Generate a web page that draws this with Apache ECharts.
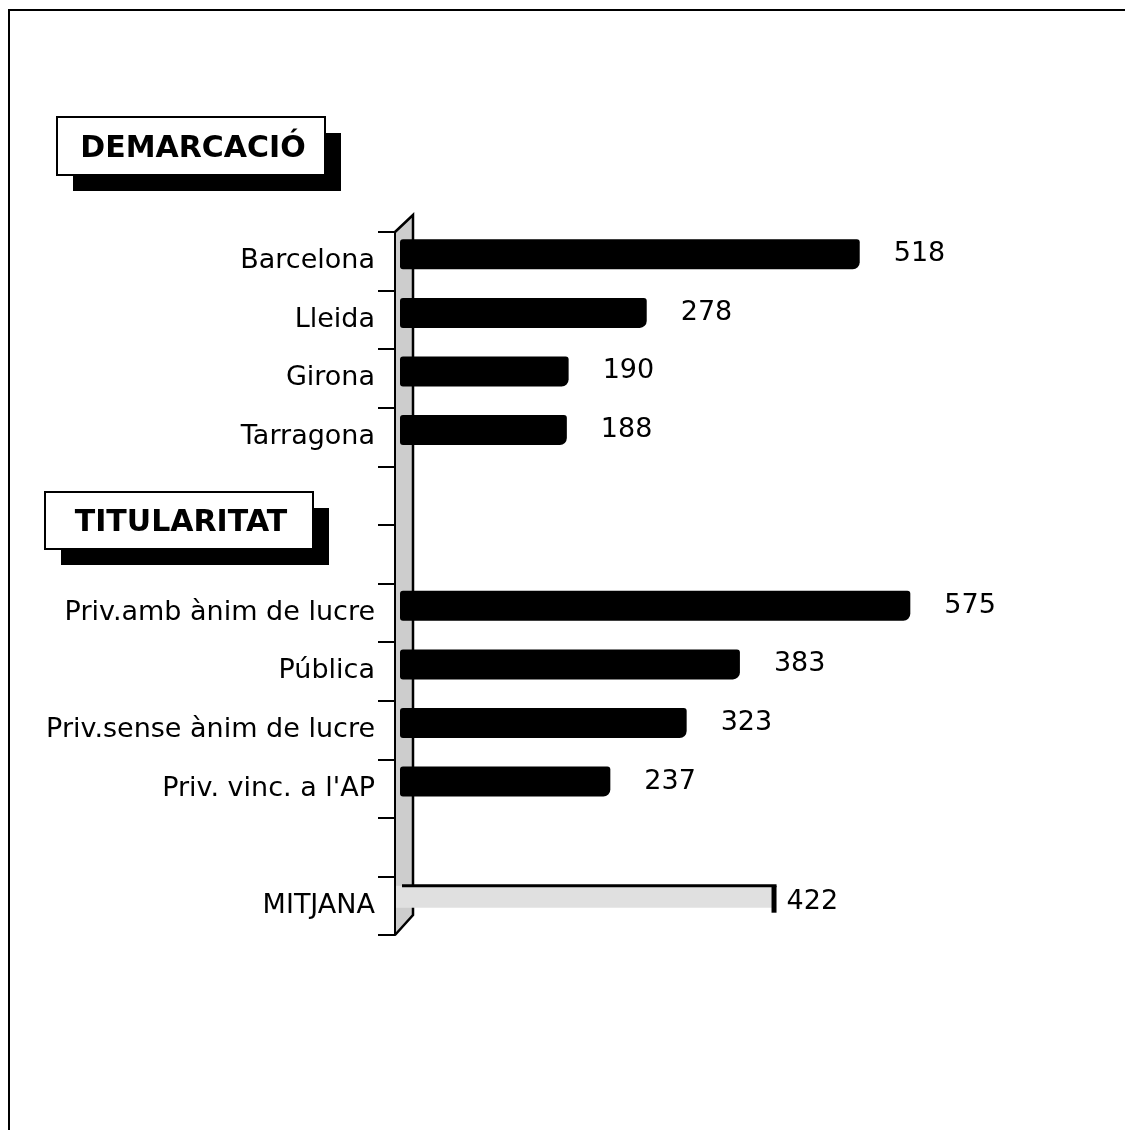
<!DOCTYPE html>
<html lang="ca">
<head>
    <meta charset="UTF-8">
    <title>Demarcació i titularitat</title>
    <script src="https://cdn.jsdelivr.net/npm/echarts@6/dist/echarts.min.js"></script>
    <style>
        body { margin: 0; background: #fff; }
        #chart { width: 1125px; height: 1130px; }
    </style>
</head>
<body>
<div id="chart"></div>
<script>
    // data
    const demarcacio = ['Barcelona', 'Lleida', 'Girona', 'Tarragona'];
    const demarcacioValues = [518, 278, 190, 188];
    const titularitat = ['Priv.amb ànim de lucre', 'Pública', 'Priv.sense ànim de lucre', "Priv. vinc. a l'AP"];
    const titularitatValues = [575, 383, 323, 237];
    const mitjanaLabel = 'MITJANA';
    const mitjanaValue = 422;
    const sectionTitles = ['DEMARCACIÓ', 'TITULARITAT'];

    // rows: 4 demarcacions, 2 empty, 4 titularitats, 1 empty, mitjana
    const categories = [...demarcacio, '', '', ...titularitat, '', mitjanaLabel];
    const barValues = [...demarcacioValues, null, null, ...titularitatValues, null, null];
    const mitjanaIndex = categories.length - 1;

    const FONT = "'DejaVu Sans', Verdana, sans-serif";
    const AX_LEFT = 395, AX_TOP = 232, AX_H = 703;
    const DEPTH_X = 18, DEPTH_Y = 17;
    const WALL = '#cdcdcd';

    const chart = echarts.init(document.getElementById('chart'));

    function titleBox(text, x, y, w, h) {
        return {
            type: 'group', x: x, y: y, z: 10,
            children: [
                {type: 'rect', shape: {x: 16, y: 16, width: w, height: h}, style: {fill: '#000'}},
                {type: 'rect', shape: {x: 0, y: 0, width: w, height: h}, style: {fill: '#fff', stroke: '#000', lineWidth: 2}},
                {
                    type: 'text', x: w / 2 + 2, y: h / 2 + 3,
                    style: {text: text, fill: '#000', font: 'bold 30px ' + FONT, align: 'center', verticalAlign: 'middle'}
                }
            ]
        };
    }

    const option = {
        animation: false,
        grid: [
            {left: AX_LEFT, top: AX_TOP, height: AX_H, width: 10},
            {left: 400, top: AX_TOP - 7, height: AX_H, width: 710}
        ],
        xAxis: [
            {gridIndex: 0, type: 'value', show: false},
            {gridIndex: 1, type: 'value', min: 0, max: 800, show: false}
        ],
        yAxis: [
            {
                gridIndex: 0, type: 'category', inverse: true, data: categories, z: 5,
                axisLine: {show: true, lineStyle: {color: '#000', width: 2}},
                axisTick: {show: true, length: 17, lineStyle: {color: '#000', width: 2}},
                axisLabel: {show: true, margin: 20, fontSize: 27, color: '#000', fontFamily: FONT},
                splitLine: {show: false}
            },
            {gridIndex: 1, type: 'category', inverse: true, data: categories, show: false}
        ],
        series: [
            {
                type: 'bar', xAxisIndex: 1, yAxisIndex: 1,
                data: barValues, barWidth: 30, z: 3,
                itemStyle: {color: '#000', borderRadius: [3, 3, 7, 3]},
                label: {
                    show: true, position: 'right', distance: 34,
                    fontSize: 27, color: '#000', fontFamily: FONT
                }
            },
            {
                // MITJANA drawn as the grey floor of the chart
                type: 'custom', xAxisIndex: 1, yAxisIndex: 1, z: 3,
                data: [[mitjanaValue, mitjanaIndex]],
                renderItem: function (params, api) {
                    const end = api.coord([api.value(0), api.value(1)]);
                    const start = api.coord([0, api.value(1)]);
                    const top = end[1] - 13;
                    return {
                        type: 'group',
                        children: [
                            {type: 'rect', shape: {x: start[0] - 4, y: top, width: end[0] - start[0] + 4, height: 22}, style: {fill: '#e0e0e0'}},
                            {type: 'line', shape: {x1: start[0] + 2, y1: top, x2: end[0] + 2, y2: top}, style: {stroke: '#000', lineWidth: 3}},
                            {type: 'rect', shape: {x: end[0] - 3, y: top, width: 5, height: 27}, style: {fill: '#000'}},
                            {
                                type: 'text', x: end[0] + 12, y: top + 16,
                                style: {text: String(api.value(0)), fill: '#000', font: '27px ' + FONT, verticalAlign: 'middle'}
                            }
                        ]
                    };
                }
            }
        ],
        graphic: [
            // page border
            {type: 'polyline', z: 0, shape: {points: [[9, 1130], [9, 10], [1125, 10]]}, style: {stroke: '#000', lineWidth: 2, fill: null}},
            // back wall
            {
                type: 'polygon', z: 0,
                shape: {points: [[AX_LEFT, AX_TOP], [AX_LEFT + DEPTH_X, AX_TOP - DEPTH_Y], [AX_LEFT + DEPTH_X, AX_TOP + AX_H - DEPTH_Y - 3], [AX_LEFT, AX_TOP + AX_H]]},
                style: {fill: WALL}
            },
            {
                type: 'polyline', z: 1,
                shape: {points: [[AX_LEFT, AX_TOP], [AX_LEFT + DEPTH_X, AX_TOP - DEPTH_Y], [AX_LEFT + DEPTH_X, 886]]},
                style: {stroke: '#000', lineWidth: 2.5, fill: null}
            },
            {
                type: 'polyline', z: 1,
                shape: {points: [[AX_LEFT + DEPTH_X, 900], [AX_LEFT + DEPTH_X, AX_TOP + AX_H - DEPTH_Y - 3], [AX_LEFT, AX_TOP + AX_H]]},
                style: {stroke: '#000', lineWidth: 2.5, fill: null}
            },
            titleBox(sectionTitles[0], 57, 117, 268, 58),
            titleBox(sectionTitles[1], 45, 492, 268, 57)
        ]
    };
    chart.setOption(option);
</script>
</body>
</html>
